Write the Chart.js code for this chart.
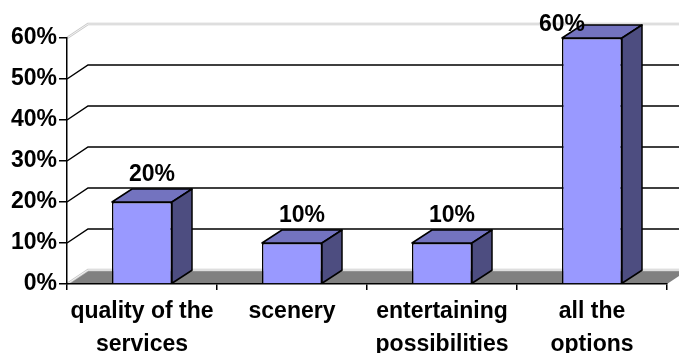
<!DOCTYPE html>
<html>
<head>
<meta charset="utf-8">
<script src="https://cdn.jsdelivr.net/npm/chart.js@4"></script>
<style>
  html, body { margin: 0; padding: 0; background: #fff; }
  #wrap { width: 679px; height: 353px; }
</style>
</head>
<body>
<div id="wrap"><canvas id="surveyChart"></canvas></div>
<script>
// Survey answers, share of respondents (%)
const categories = [['quality of the', 'services'], ['scenery'], ['entertaining', 'possibilities'], ['all the', 'options']];
const shares = [20, 10, 10, 60];
const yTicks = [0, 10, 20, 30, 40, 50, 60];

const FONT = '"Liberation Sans", Arial, sans-serif';
const FONT_SIZE = 23;
const WALL = { dx: 21, dy: -14 };
const DEPTH = { dx: 20, dy: -13 };

// back wall, side wall and floor behind the bars
const wallPlugin = {
  id: 'wall3d',
  beforeDraw(chart) {
    const { ctx, chartArea: a, scales } = chart;
    const y = scales.y;
    ctx.save();
    ctx.fillStyle = '#fff';
    ctx.fillRect(0, 0, chart.width, chart.height);

    // floor slab
    ctx.fillStyle = '#808080';
    ctx.beginPath();
    ctx.moveTo(a.left, a.bottom);
    ctx.lineTo(a.right, a.bottom);
    ctx.lineTo(a.right + WALL.dx, a.bottom + WALL.dy);
    ctx.lineTo(a.left + WALL.dx, a.bottom + WALL.dy);
    ctx.closePath();
    ctx.fill();

    yTicks.forEach(v => {
      const py = y.getPixelForValue(v);
      const edge = v === yTicks[0] || v === yTicks[yTicks.length - 1];
      ctx.strokeStyle = edge ? '#c8c8c8' : '#000';
      ctx.lineWidth = edge ? 2.5 : 1.5;
      ctx.beginPath();
      ctx.moveTo(a.left, py);
      ctx.lineTo(a.left + WALL.dx, py + WALL.dy);
      ctx.lineTo(chart.width + 2, py + WALL.dy);
      ctx.stroke();
      if (edge) {
        ctx.strokeStyle = '#fff';
        ctx.lineWidth = 0.8;
        ctx.stroke();
      }
    });
    ctx.restore();
  }
};

// top and side faces of each bar, then the value labels
const barPlugin = {
  id: 'bar3d',
  afterDatasetsDraw(chart) {
    const { ctx } = chart;
    const meta = chart.getDatasetMeta(0);
    ctx.save();
    ctx.lineWidth = 1.5;
    ctx.strokeStyle = '#000';
    ctx.lineJoin = 'round';
    meta.data.forEach(bar => {
      const l = bar.x - bar.width / 2, r = bar.x + bar.width / 2;
      const t = bar.y, b = bar.base;
      // top
      ctx.fillStyle = '#7373bf';
      ctx.beginPath();
      ctx.moveTo(l, t);
      ctx.lineTo(r, t);
      ctx.lineTo(r + DEPTH.dx, t + DEPTH.dy);
      ctx.lineTo(l + DEPTH.dx, t + DEPTH.dy);
      ctx.closePath();
      ctx.fill();
      ctx.stroke();
      // side
      ctx.fillStyle = '#4d4d80';
      ctx.beginPath();
      ctx.moveTo(r, t);
      ctx.lineTo(r + DEPTH.dx, t + DEPTH.dy);
      ctx.lineTo(r + DEPTH.dx, b + DEPTH.dy);
      ctx.lineTo(r, b);
      ctx.closePath();
      ctx.fill();
      ctx.stroke();
    });

    ctx.fillStyle = '#000';
    ctx.font = 'bold ' + FONT_SIZE + 'px ' + FONT;
    ctx.textAlign = 'center';
    ctx.textBaseline = 'alphabetic';
    meta.data.forEach((bar, i) => {
      const label = shares[i] + '%';
      let x = bar.x + DEPTH.dx / 2;
      let base = bar.y + DEPTH.dy - 8;
      // keep the label inside the canvas: slide it over the bar's left corner
      if (base - 17 < 8) {
        x = bar.x - bar.width / 2;
        base = 31;
      }
      ctx.fillText(label, x, base);
    });
    ctx.restore();
  }
};

new Chart(document.getElementById('surveyChart'), {
  type: 'bar',
  data: {
    labels: categories,
    datasets: [{
      data: shares,
      backgroundColor: '#9999ff',
      borderColor: '#000',
      borderWidth: 1.5,
      categoryPercentage: 1,
      barPercentage: 0.4
    }]
  },
  options: {
    responsive: true,
    maintainAspectRatio: false,
    animation: false,
    layout: { padding: { top: 38, right: 12, left: 0, bottom: 0 } },
    plugins: { legend: { display: false }, tooltip: { enabled: false } },
    scales: {
      y: {
        min: 0,
        max: 60,
        afterFit: s => { s.width = 67; },
        ticks: {
          stepSize: 10,
          padding: 2,
          color: '#000',
          font: { family: FONT, size: FONT_SIZE, weight: 'bold' },
          callback: v => v + '%'
        },
        grid: { drawOnChartArea: false, tickLength: 8, color: '#000', lineWidth: 1.5 },
        border: { color: '#000', width: 1.5 }
      },
      x: {
        afterFit: s => { s.height = 69; },
        ticks: {
          padding: 6,
          color: '#000',
          maxRotation: 0,
          autoSkip: false,
          font: { family: FONT, size: FONT_SIZE, weight: 'bold', lineHeight: 1.4 }
        },
        grid: { offset: true, drawOnChartArea: false, tickLength: 6, color: '#000', lineWidth: 1.5 },
        border: { color: '#000', width: 1.5 }
      }
    }
  },
  plugins: [wallPlugin, barPlugin]
});
</script>
</body>
</html>
